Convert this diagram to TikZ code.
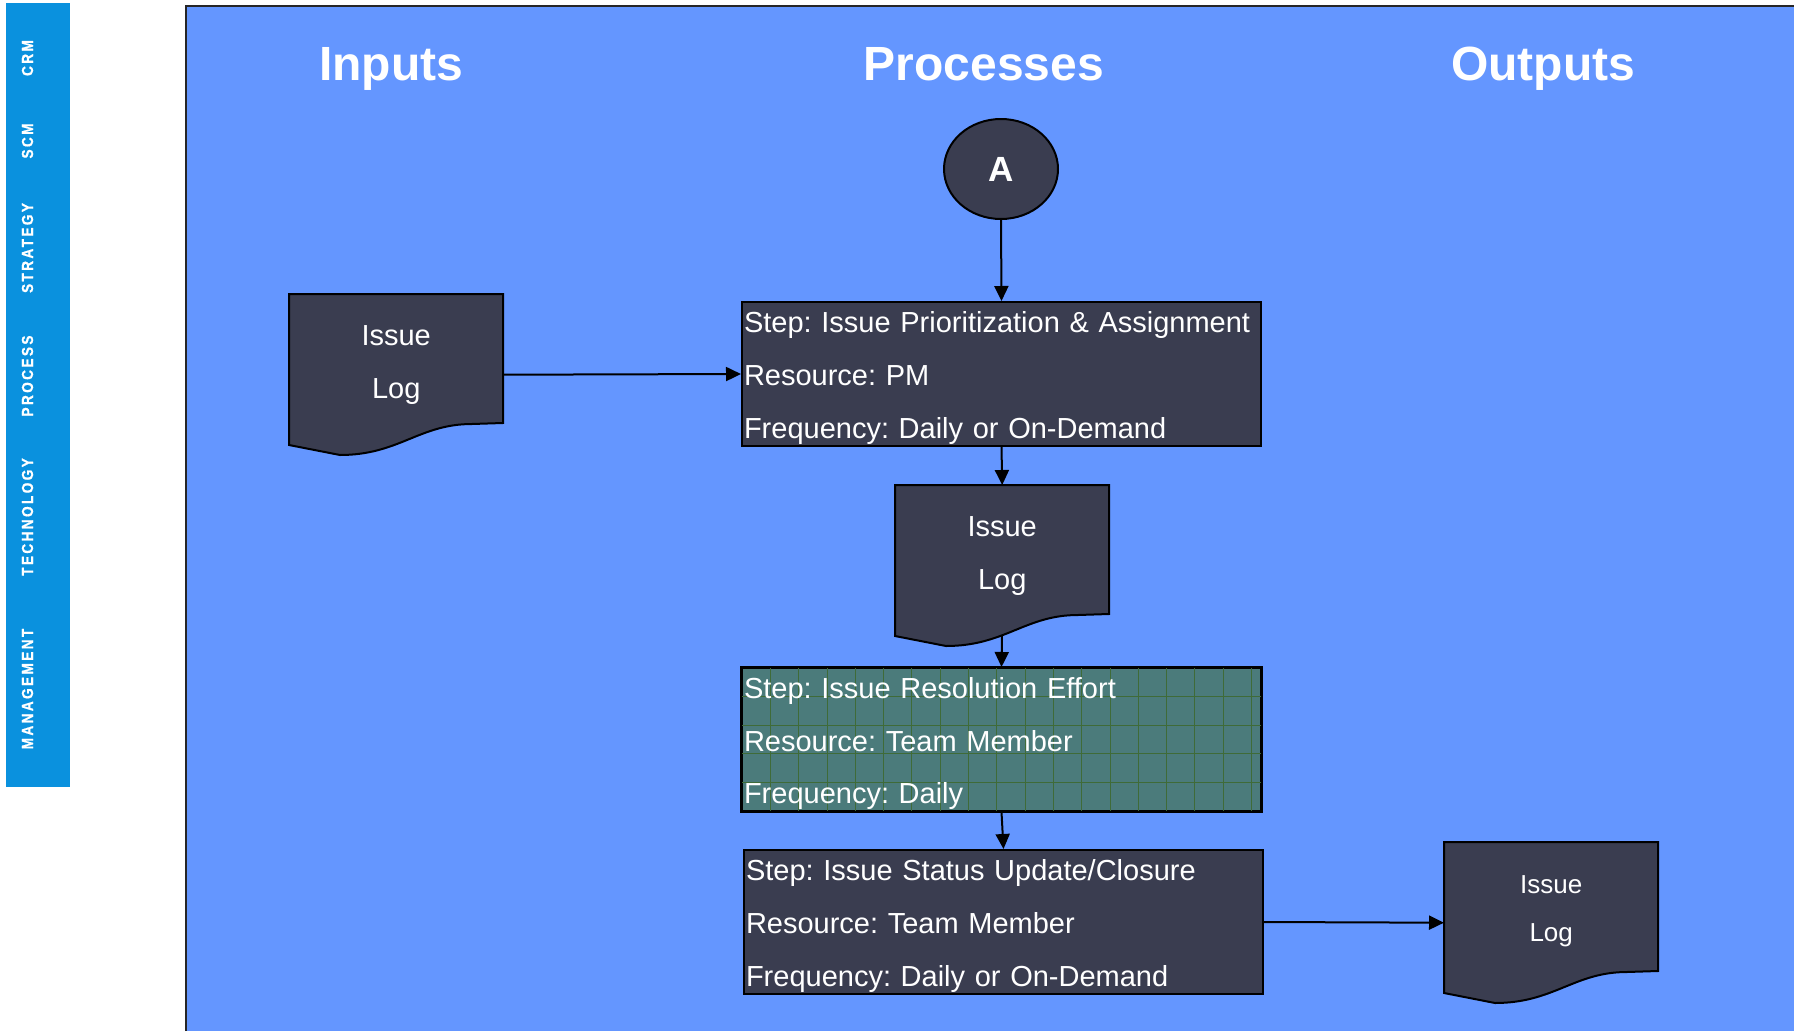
\documentclass[tikz,border=0pt]{standalone}
\usepackage{fontspec}
\setmainfont{Liberation Sans}
\newfontfamily\navfont{Liberation Sans Bold}[LetterSpace=15, FakeStretch=0.85, FakeBold=0.8]
\usetikzlibrary{arrows.meta,calc,shapes.geometric}
\frenchspacing

\definecolor{panelblue}{HTML}{6496FF}
\definecolor{sidebarblue}{HTML}{0A91DE}
\definecolor{boxdark}{HTML}{3A3D50}
\definecolor{boxteal}{HTML}{4B7B7B}
\definecolor{gridgreen}{HTML}{3F6B38}

\tikzset{
  flowline/.style={line width=2pt, draw=black, -{Triangle[length=15pt,width=14pt]}},
  stepbox/.style={draw=black, line width=2pt, fill=boxdark, text=white,
    minimum width=519pt, minimum height=144pt, inner xsep=2pt, inner ysep=0pt,
    text width=515pt, align=left, font=\fontsize{29pt}{52.6pt}\selectfont},
  steptext/.style={text=white, inner sep=0pt, text width=515pt, align=left,
    anchor=center, font=\fontsize{29pt}{52.6pt}\selectfont},
  docbox/.style={draw=none, minimum width=214pt, minimum height=161pt,
    inner sep=0pt, anchor=north west},
  docshape/.style={draw=black, line width=2pt, fill=boxdark},
  doctext/.style={text=white, align=center, inner sep=0pt,
    font=\fontsize{29pt}{53pt}\selectfont},
  heading/.style={text=white, anchor=base, font=\fontsize{48pt}{56pt}\selectfont\bfseries},
  sidelabel/.style={text=white, rotate=90, inner sep=0pt,
    font=\navfont\fontsize{16pt}{18pt}\selectfont},
  connector/.style={draw=black, line width=2pt, fill=boxdark, text=white,
    ellipse, minimum width=114pt, minimum height=100pt, inner sep=0pt,
    font=\fontsize{35pt}{40pt}\selectfont\bfseries}
}

% wavy-bottom document outline over a docbox node
\newcommand\docoutline[1]{%
  \begin{scope}[shift={(#1.north west)}]
    \draw[docshape] (0,0) -- (214,0) -- (214,129) -- (183,130)
      .. controls (130,130) and (110,161) .. (51,161) -- (0,151) -- cycle;
    \coordinate (#1-wave) at (107,150);
  \end{scope}}

\begin{document}
\begin{tikzpicture}[x=1pt,y=-1pt]
  \useasboundingbox (0,0) rectangle (1794,1031);
  \fill[white] (0,0) rectangle (1794,1031);

  % side navigation strip
  \fill[sidebarblue] (6,3) rectangle (70,787);
  \node[sidelabel] (navcrm)  at (27.5,58)  {CRM};
  \node[sidelabel] (navscm)  at (27.5,141) {SCM};
  \node[sidelabel] (navstr)  at (27.5,248) {STRATEGY};
  \node[sidelabel] (navproc) at (27.5,376) {PROCESS};
  \node[sidelabel] (navtech) at (27.5,517) {TECHNOLOGY};
  \node[sidelabel] (navmgmt) at (27.5,689) {MANAGEMENT};

  % main panel
  \fill[panelblue] (186,6) rectangle (1794,1031);
  \draw[line width=2pt, draw=black!85] (186,1031) -- (186,6) -- (1794,6);

  % column headings
  \node[heading] (hin)   at (391,80)  {Inputs};
  \node[heading] (hproc) at (984,80)  {Processes};
  \node[heading] (hout)  at (1543,80) {Outputs};

  % off-page connector
  \node[connector] (conA) at (1001,169) {A};

  % process steps
  \node[stepbox] (step1) at (1001.5,374) {};
  \node[steptext] (step1t) at ($(step1.center)+(0,4)$)
    {Step: Issue Prioritization \& Assignment\\Resource: PM\\Frequency: Daily or On-Demand};

  \node[stepbox, fill=boxteal, minimum height=143pt] (step2) at (1001.5,739.5) {};
  \begin{scope}
    \clip (742,668) rectangle (1261,811);
    \foreach \i in {1,...,18}
      \draw[gridgreen, line width=0.8pt] (742+\i*28.3,668) -- (742+\i*28.3,811);
    \foreach \j in {1,...,5}
      \draw[gridgreen, line width=0.8pt] (742,668+\j*28.6) -- (1261,668+\j*28.6);
  \end{scope}
  \draw[black, line width=2pt] (step2.north west) rectangle (step2.south east);
  \node[steptext] (step2t) at ($(step2.center)+(0,4)$)
    {Step: Issue Resolution Effort\\Resource: Team Member\\Frequency: Daily};

  \node[stepbox] (step3) at (1003.5,922) {};
  \node[steptext] (step3t) at ($(step3.center)+(0,4)$)
    {Step: Issue Status Update/Closure\\Resource: Team Member\\Frequency: Daily or On-Demand};

  % documents
  \node[docbox] (doc1) at (289,294) {};
  \docoutline{doc1}
  \node[doctext] (doc1t) at ($(doc1.center)+(0,-10)$) {Issue\\Log};

  \node[docbox] (doc2) at (895,485) {};
  \docoutline{doc2}
  \node[doctext] (doc2t) at ($(doc2.center)+(0,-10)$) {Issue\\Log};

  \node[docbox] (doc3) at (1444,842) {};
  \docoutline{doc3}
  \node[doctext, font=\fontsize{26pt}{48pt}\selectfont] (doc3t) at ($(doc3.center)+(0,-11)$) {Issue\\Log};

  % flow
  \draw[flowline] (conA.south) -- (step1.north);
  \draw[flowline] (doc1.east) -- (step1.west);
  \draw[flowline] (step1.south) -- (doc2.north);
  \draw[flowline] (doc2-wave) -- (step2.north);
  \draw[flowline] (step2.south) -- (step3.north);
  \draw[flowline] (step3.east) -- (doc3.west);
\end{tikzpicture}
\end{document}
